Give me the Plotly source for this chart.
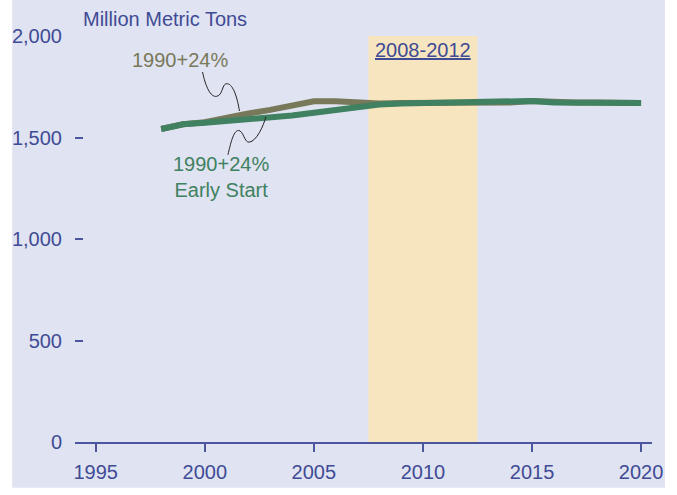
import plotly.graph_objects as go

years = list(range(1998, 2021))
base_24 = [1542, 1565, 1575, 1598, 1618, 1636, 1656, 1678, 1678, 1672, 1668, 1670, 1670,
           1671, 1671, 1671, 1672, 1680, 1673, 1672, 1672, 1671, 1670]
early_start = [1542, 1565, 1573, 1581, 1588, 1596, 1608, 1622, 1636, 1648, 1662, 1668, 1670,
               1671, 1671, 1671, 1672, 1680, 1673, 1672, 1672, 1671, 1670]
x_ticks = [1995, 2000, 2005, 2010, 2015, 2020]
y_ticks = [0, 500, 1000, 1500, 2000]
band_years = [2007.5, 2012.5]

BG = "#e0e3f2"
BLUE = "#3f4b94"
OLIVE = "#78795a"
GREEN = "#3f8160"
BAND = "#f7e5c0"
FONT = "Liberation Sans, Arial, sans-serif"

FW, FH = 677, 495
# plot-area geometry (pixels)
L, T, W, H = 73, 36, 579, 417
XR = [1994.05, 2020.5]
YR = [0, 2000]


def px2x(px):
    return XR[0] + (px - L) / W * (XR[1] - XR[0])


def py2y(py):
    return YR[0] + (T + H - py) / H * (YR[1] - YR[0])


def pxp(px):
    return (px - L) / W


def pyp(py):
    return (T + H - py) / H


def path(points):
    p = "M %.4f,%.4f" % (px2x(points[0][0]), py2y(points[0][1]))
    rest = points[1:]
    for i in range(0, len(rest), 3):
        seg = rest[i:i + 3]
        p += " C " + " ".join("%.4f,%.4f" % (px2x(a), py2y(b)) for a, b in seg)
    return p


fig = go.Figure()
fig.add_trace(go.Scatter(x=years, y=base_24, mode="lines",
                         line=dict(color=OLIVE, width=6), hoverinfo="skip"))
fig.add_trace(go.Scatter(x=years, y=early_start, mode="lines",
                         line=dict(color=GREEN, width=6), hoverinfo="skip"))

shapes = [
    dict(type="rect", xref="paper", yref="paper",
         x0=pxp(10), x1=pxp(665), y0=pyp(500), y1=pyp(-5),
         fillcolor=BG, line=dict(width=0), layer="below"),
    dict(type="rect", xref="x", yref="y", x0=band_years[0], x1=band_years[1],
         y0=YR[0], y1=YR[1], fillcolor=BAND, line=dict(width=0), layer="below"),
    dict(type="path", xref="x", yref="y",
         path=path([(201, 73), (204, 88), (209, 99), (215, 98),
                    (222, 97), (220, 84), (226, 85),
                    (232, 86), (236, 100), (238, 113)]),
         line=dict(color="#222222", width=1)),
    dict(type="path", xref="x", yref="y",
         path=path([(226.5, 158), (229, 147), (232, 133), (237, 133),
                    (242, 133), (243, 146), (248, 145),
                    (255, 144), (262, 129), (264.5, 119)]),
         line=dict(color="#222222", width=1)),
]

annotations = [
    dict(text="Million Metric Tons", xref="paper", yref="paper", x=pxp(79), y=pyp(19),
         xanchor="left", yanchor="middle", showarrow=False,
         font=dict(size=20, color=BLUE, family=FONT)),
    dict(text="<span style='text-decoration:underline'>2008-2012</span>", xref="x", yref="y",
         x=(band_years[0] + band_years[1]) / 2, y=py2y(50),
         xanchor="center", yanchor="middle", showarrow=False,
         font=dict(size=20, color=BLUE, family=FONT)),
    dict(text="1990+24%", xref="x", yref="y", x=px2x(178), y=py2y(61),
         xanchor="center", yanchor="middle", showarrow=False,
         font=dict(size=20, color=OLIVE, family=FONT)),
    dict(text="1990+24%<br>Early Start", xref="x", yref="y", x=px2x(219), y=py2y(181),
         xanchor="center", yanchor="middle", showarrow=False,
         font=dict(size=20, color=GREEN, family=FONT)),
]

fig.update_layout(
    width=FW, height=FH,
    margin=dict(l=L, r=FW - L - W, t=T, b=FH - T - H, pad=0),
    paper_bgcolor="white", plot_bgcolor=BG,
    showlegend=False,
    font=dict(family=FONT, size=20, color=BLUE),
    shapes=shapes, annotations=annotations,
    xaxis=dict(range=XR, tickvals=x_ticks, ticktext=[str(v) for v in x_ticks],
               showgrid=False, zeroline=False, showline=True, linecolor="#4b569e",
               linewidth=2, ticks="outside", ticklen=8, tickwidth=1.5, tickcolor="#4b569e",
               ticklabelstandoff=3,
               tickfont=dict(size=20, color=BLUE, family=FONT)),
    yaxis=dict(range=YR, tickvals=y_ticks, tickformat=",", showgrid=False, zeroline=False,
               showline=False, ticks="inside", ticklen=8, tickwidth=1.5, tickcolor="#4b569e",
               ticklabelstandoff=12,
               tickfont=dict(size=20, color=BLUE, family=FONT)),
)

fig.write_html("out.html", config=dict(displayModeBar=False),
               post_script="document.body.style.margin='0';")
